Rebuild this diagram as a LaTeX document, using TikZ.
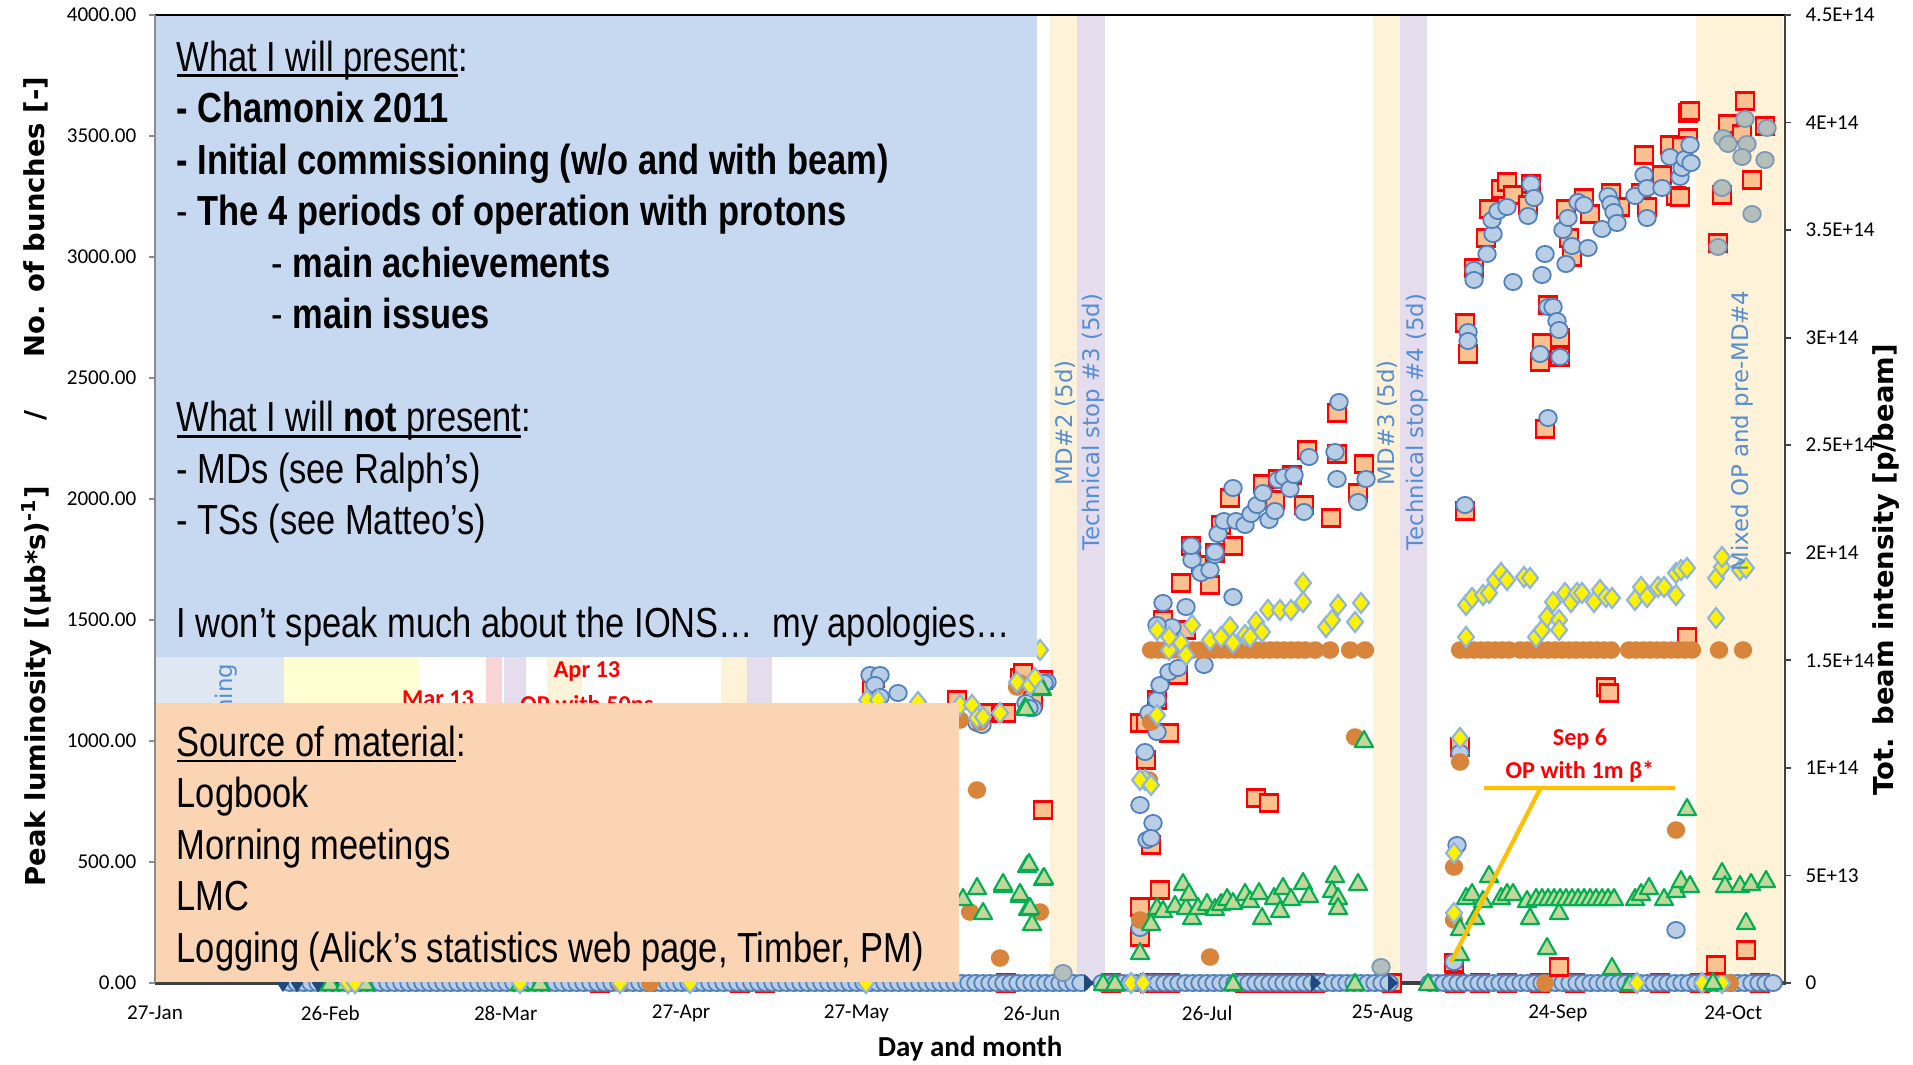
\documentclass[tikz,border=0pt]{standalone}
\usepackage{fontspec}
\setmainfont{Carlito}
\newfontfamily\dejavu{DejaVu Sans}
\newfontfamily\narrowfont[FakeStretch=0.82]{Liberation Sans}
\definecolor{boxblue}{HTML}{C6D9F1}
\definecolor{boxorange}{HTML}{FBD4B4}
\definecolor{commband}{HTML}{DFE7F3}
\definecolor{yelband}{HTML}{FEFED2}
\definecolor{pinkband}{HTML}{F9D5D8}
\definecolor{lavband}{HTML}{E5DDEE}
\definecolor{creamband}{HTML}{FEF2D8}
\definecolor{sqfill}{HTML}{FAC090}
\definecolor{cfill}{HTML}{B9CDE5}
\definecolor{cline}{HTML}{4F81BD}
\definecolor{gfill}{HTML}{B4BEBA}
\definecolor{gline}{HTML}{7C98B6}
\definecolor{ofill}{HTML}{D9843B}
\definecolor{tfill}{HTML}{C3D69B}
\definecolor{tline}{HTML}{00B050}
\definecolor{dline}{HTML}{8EB4E3}
\definecolor{navy}{HTML}{1F497D}
\definecolor{bandtext}{HTML}{558ED5}
\definecolor{opyellow}{HTML}{FFC000}
\newcommand\pxfont{\fontsize{11.95}{14.65}\selectfont}
\newcommand\undl[1]{\setbox0=\hbox{#1}\rlap{\rule[-1.7pt]{\wd0}{0.75pt}}\box0}

\begin{document}
\begin{tikzpicture}[x=0.01cm,y=-0.01cm,
  sqmark/.style={fill=sqfill,draw=red,line width=0.6pt},
  cmark/.style={fill=cfill,draw=cline,line width=0.5pt},
  gmark/.style={fill=gfill,draw=gline,line width=0.5pt},
  omark/.style={fill=ofill},
  tmark/.style={fill=tfill,draw=tline,line width=0.6pt,line join=round},
  dmark/.style={fill=yellow,draw=dline,line width=0.6pt},
  ticklab/.style={font=\fontsize{6}{7}\selectfont,inner sep=0pt},
  axtitle/.style={font=\dejavu\bfseries\fontsize{7.8}{9}\selectfont,rotate=90,inner sep=0pt},
  bandlab/.style={font=\dejavu\fontsize{6.5}{8}\selectfont,text=bandtext,rotate=90,inner sep=0pt},
  redlab/.style={font=\bfseries\fontsize{6.9}{8}\selectfont,text=red,inner sep=0pt},
  boxtext/.style={font=\narrowfont\pxfont,align=left,anchor=north west,inner sep=0pt}]
\useasboundingbox (0,0) rectangle (1913,1064);
\fill[white] (0,0) rectangle (1913,1064);

% shaded periods
\fill[commband] (155,15) rectangle (284,983);
\fill[yelband] (284,15) rectangle (419,983);
\fill[pinkband] (486,15) rectangle (502,983);
\fill[lavband] (504,15) rectangle (526,983);
\fill[creamband] (547,15) rectangle (582,983);
\fill[creamband] (721,15) rectangle (747,983);
\fill[lavband] (747,15) rectangle (772,983);
\fill[creamband] (1050,15) rectangle (1077,983);
\fill[lavband] (1077,15) rectangle (1105,983);
\fill[creamband] (1373,15) rectangle (1400,983);
\fill[lavband] (1400,15) rectangle (1427,983);
\fill[creamband] (1696,15) rectangle (1783,983);

\draw[line width=1pt,black!75] (155,983) -- (1785,983);

% bottom row
\foreach \x in {600,740,765,1006,1111,1150,1170,1245,1262,1280,1300,1315,1392,1455,1480,1507,1540,1575,1629,1660,1700,1760}
  \draw[sqmark] (\x-9,983-8.5) rectangle ++(18,17);
\foreach \x in {290,297,...,1085}
  \draw[cmark] (\x,983) circle[x radius=2.5pt,y radius=2.3pt];
\foreach \x in {1102,1109,...,1392}
  \draw[cmark] (\x,983) circle[x radius=2.5pt,y radius=2.3pt];
\foreach \x in {1430,1437,...,1778}
  \draw[cmark] (\x,983) circle[x radius=2.5pt,y radius=2.3pt];
\foreach \x in {283,297,318,333,345}
  \fill[navy] (\x,983-9) -- ++(6,9) -- ++(-6,9) -- ++(-6,-9) -- cycle;
\foreach \x in {1088,1315,1392}
  \fill[navy] (\x-4,983-9) -- ++(10,9) -- ++(-10,9) -- cycle;
\foreach \x in {620,650,1545,1730}
  \fill[omark] (\x,983) circle[radius=2.5pt];
\foreach \x in {330,345,365,520,540,1103,1115,1233,1355,1428,1630,1713}
  \draw[tmark] (\x,983-9) -- ++(9,16) -- ++(-18,0) -- cycle;
\foreach \x in {348,355,520,620,690,866,1131,1143,1637,1702,1722}
  \draw[dmark] (\x,983-10) -- ++(8,10) -- ++(-8,10) -- ++(-8,-10) -- cycle;

% number of bunches / intensity (squares)
\foreach \x/\y in {875/678,872/690,957/700,983/713,1003/713,1020/678,1043/680,1033/700,1043/810,1006/713,1023/673,
  1140/723,1140/937,1140/907,1146/723,1169/733,1146/760,1151/845,1160/890,1163/620,1186/630,1178/675,1157/700,
  1181/583,1210/585,1201/565,1215/553,1191/546,1233/546,1221/525,1230/498,1263/484,1275/500,1278/479,1292/475,
  1304/505,1307/450,1331/518,1337/413,1337/454,1358/493,1364/464,1256/798,1269/803,
  1460/747,1468/354,1465/323,1465/511,1474/268,1486/238,1489/209,1501/189,1507/182,1513/195,1531/184,1528/205,
  1540/362,1542/343,1548/305,1560/338,1560/357,1545/429,1566/209,1569/238,1572/257,1584/198,1590/214,1611/193,
  1620/207,1641/193,1647/207,1644/155,1662/175,1670/145,1676/196,1688/138,1688/113,1682/146,1606/687,1609/693,
  1687/637,1559/967,1746/950,1716/965,1454/963,
  1690/111,1680/197,1722/195,1718/243,1728/124,1742/134,1745/101,1752/180,1765/126}
  \draw[sqmark] (\x-9,\y-8.5) rectangle ++(18,17);

% blue circles
\foreach \x/\y in {870/675,880/675,875/685,898/693,880/697,977/723,982/725,1030/707,1033/708,1047/682,1026/703,1029/708,1044/683,
  1145/752,1140/805,1147/840,1140/928,1153/823,1151/838,1157/732,1149/713,1157/700,1160/685,1169/672,1178/668,1204/665,
  1172/627,1157/625,1233/597,1186/607,1163/603,1192/547,1192/560,1201/573,1210/570,1215/555,1191/546,1215/552,1218/534,
  1224/521,1233/488,1236/521,1245/525,1251/514,1257/505,1263/493,1269/520,1275/511,1278/480,1284/477,1290/489,1294/475,
  1304/512,1309/457,1335/452,1337/479,1339/402,1358/502,1366/479,
  1460/753,1457/845,1454/962,1676/930,1465/505,1468/332,1468/341,1474/270,1474/280,1487/254,1493/234,1492/220,1498/211,
  1507/207,1513/282,1531/184,1534/198,1528/216,1542/275,1545/254,1548/307,1553/307,1557/321,1559/330,1560/357,1540/354,
  1548/418,1563/230,1568/218,1566/264,1572/246,1578/202,1584/205,1588/248,1602/229,1608/196,1611/204,1614/212,1617/223,
  1635/196,1644/175,1647/188,1647/218,1662/188,1670/157,1680/177,1682/168,1685/159,1691/163,1690/145}
  \draw[cmark] (\x,\y) circle[x radius=2.5pt,y radius=2.3pt];
\foreach \x/\y in {1723/138,1728/144,1722/188,1718/247,1745/119,1747/144,1742/157,1752/214,1765/160,1767/128,1063/973,1381/967}
  \draw[gmark] (\x,\y) circle[x radius=2.5pt,y radius=2.3pt];

% bunches row
\foreach \x in {1151,1158,...,1305,1315,1330,1350,1365}
  \fill[omark] (\x,650) circle[x radius=2.6pt,y radius=2.5pt];
\foreach \x in {1460,1467,...,1513}
  \fill[omark] (\x,650) circle[x radius=2.6pt,y radius=2.5pt];
\foreach \x in {1520,1527,...,1617}
  \fill[omark] (\x,650) circle[x radius=2.6pt,y radius=2.5pt];
\foreach \x in {1629,1636,...,1693,1719,1743}
  \fill[omark] (\x,650) circle[x radius=2.6pt,y radius=2.5pt];
\foreach \x/\y in {960/720,977/790,970/912,1040/912,1000/958,1140/920,1020/683,1037/685,980/722,1151/722,1149/780,
  1210/957,1355/737,1017/687,1038/687,1454/867,1454/920,1676/830,1460/762}
  \fill[omark] (\x,\y) circle[x radius=2.6pt,y radius=2.5pt];

% luminosity (triangles)
\foreach \x/\y in {1027/865,1043/878,977/887,1003/885,1020/895,963/898,983/912,1028/908,1032/923,1030/907,1025/707,
  1042/688,1140/952,1026/708,1041/687,1029/863,1044/877,1020/893,1003/883,
  1157/907,1151/923,1163/910,1175/905,1186/907,1192/917,1183/883,1189/893,1198/907,1207/903,1215/908,1221/903,1227/898,
  1233/902,1245/893,1250/900,1259/892,1262/917,1274/897,1280/910,1283/887,1291/898,1303/882,1309/895,1335/875,1332/890,
  1338/897,1338/907,1358/883,1364/740,
  1460/953,1460/928,1475/917,1466/897,1472/893,1489/875,1483/900,1501/897,1507/893,1513/893,1530/917,1527/900,
  1547/947,1559/912,1612/967,1635/898,1641/893,1649/887,1664/898,1676/890,1681/880,1690/885,1687/808,1722/872,
  1725/885,1740/885,1751/883,1766/880,1746/922,1713/982}
  \draw[tmark] (\x,\y-9) -- ++(9,16) -- ++(-18,0) -- cycle;
\foreach \x in {1536,1542,...,1617}
  \draw[tmark] (\x,898-9) -- ++(9,16) -- ++(-18,0) -- cycle;

% diamonds
\foreach \x/\y in {1040/650,867/700,878/700,918/702,960/705,972/705,977/718,983/717,1000/713,1017/682,1030/685,1035/678,
  1145/780,1157/630,1169/650,1181/643,1192/625,1210/640,1221/637,1230/627,1233/643,1245/635,1250/637,1256/622,
  1262/632,1268/610,1280/610,1291/610,1303/602,1303/583,1326/627,1332/620,1338/605,1355/622,1361/603,1140/780,
  1151/785,1157/715,1169/637,1186/655,
  1460/738,1454/853,1454/913,1466/637,1466/605,1472/598,1483/595,1489/593,1495/580,1501/573,1507/580,1524/577,
  1530/578,1536/637,1542/630,1547/617,1553/602,1559/620,1559/630,1565/593,1571/602,1577/593,1582/593,1594/602,
  1600/590,1606/597,1612/598,1635/600,1641/587,1647/597,1658/587,1664/587,1676/595,1676/573,1681/570,1687/568,
  1716/618,1716/578,1722/567,1722/557,1740/570,1746/568}
  \draw[dmark] (\x,\y-10) -- ++(8,10) -- ++(-8,10) -- ++(-8,-10) -- cycle;

% period labels
\node[bandlab,anchor=east] (comm) at (226,663) {ning};
\node[redlab] (mar) at (438,699) {Mar 13};
\node[redlab] (apr) at (587,671) {Apr 13};
\node[redlab] (aprop) at (587,704) {OP with 50ns};
\node[bandlab,anchor=west] (md2) at (1065,486) {MD\#2 (5d)};
\node[bandlab,anchor=west] (ts3) at (1093,551) {Technical stop \#3 (5d)};
\node[bandlab,anchor=west] (md3) at (1387,486) {MD\#3 (5d)};
\node[bandlab,anchor=west] (ts4) at (1417,551) {Technical stop \#4 (5d)};
\node[bandlab,anchor=west] (mixed) at (1742,572) {Mixed OP and pre-MD\#4};

% 1m beta* note
\node[redlab] (sep) at (1580,739) {Sep 6};
\node[redlab] (sepop) at (1580,772) {OP with 1m β*};
\coordinate (opl) at (1484,788);
\coordinate (opr) at (1675,788);
\coordinate (opk) at (1540,789);
\coordinate (opt) at (1451,962);
\draw[opyellow,line width=1.2pt] (opl) -- (opr) (opk) -- (opt);

% overlay boxes
\fill[boxblue] (155,15) rectangle (1037,657);
\fill[boxorange] (156,703) rectangle (959,982);
\node[boxtext] (present) at (176,40) {\undl{What I will present}:\\
  \textbf{- Chamonix 2011}\\
  \textbf{- Initial commissioning (w/o and with beam)}\\
  - \textbf{The 4 periods of operation with protons}\\
  \hspace*{27pt}- \textbf{main achievements}\\
  \hspace*{27pt}- \textbf{main issues}\\[14.65pt]
  \undl{What I will \textbf{not} present}:\\
  - MDs (see Ralph’s)\\
  - TSs (see Matteo’s)\\[14.65pt]
  I won’t speak much about the IONS…\ \ my apologies…};
\node[boxtext] (source) at (176,725) {\undl{Source of material}:\\
  Logbook\\
  Morning meetings\\
  LMC\\
  Logging (Alick’s statistics web page, Timber, PM)};

% axes
\draw[black,line width=0.8pt] (155,15) -- (1785,15);
\draw[black!45,line width=0.6pt] (155,15) -- (155,983);
\draw[black!75,line width=0.6pt] (1785,15) -- (1785,985);
\foreach \i in {0,...,8}
  \draw[black!45,line width=0.5pt] (149,983-\i*121) -- (155,983-\i*121);
\foreach \i in {0,...,9}
  \draw[black!75,line width=0.5pt] (1785,983-\i*107.56) -- (1791,983-\i*107.56);
\foreach \v [count=\i from 0] in {0.00,500.00,1000.00,1500.00,2000.00,2500.00,3000.00,3500.00,4000.00}
  \node[ticklab,anchor=east] (yl\i) at (137,983-\i*121) {\v};
\foreach \v [count=\i from 0] in {0,5E+13,1E+14,1.5E+14,2E+14,2.5E+14,3E+14,3.5E+14,4E+14,4.5E+14}
  \node[ticklab,anchor=west] (yr\i) at (1805,983-\i*107.56) {\v};
\foreach \d/\t [count=\i] in {0/27-Jan,30/26-Feb,60/28-Mar,90/27-Apr,120/27-May,150/26-Jun,180/26-Jul,210/25-Aug,240/24-Sep,270/24-Oct}
  \node[ticklab] (dl\i) at (155+\d*5.845,1013) {\t};

% axis titles
\node[font=\bfseries\fontsize{8.25}{10}\selectfont,inner sep=0pt] (xtitle) at (970,1049) {Day and month};
\node[axtitle,anchor=west] (lumtitle) at (36,887) {Peak luminosity [(µb*s)\textsuperscript{-1}]};
\node[axtitle] (slash) at (36,415) {/};
\node[axtitle,anchor=east] (buntitle) at (36,76) {No. of bunches [-]};
\node[axtitle] (inttitle) at (1886,570) {Tot. beam intensity [p/beam]};
\end{tikzpicture}
\end{document}
